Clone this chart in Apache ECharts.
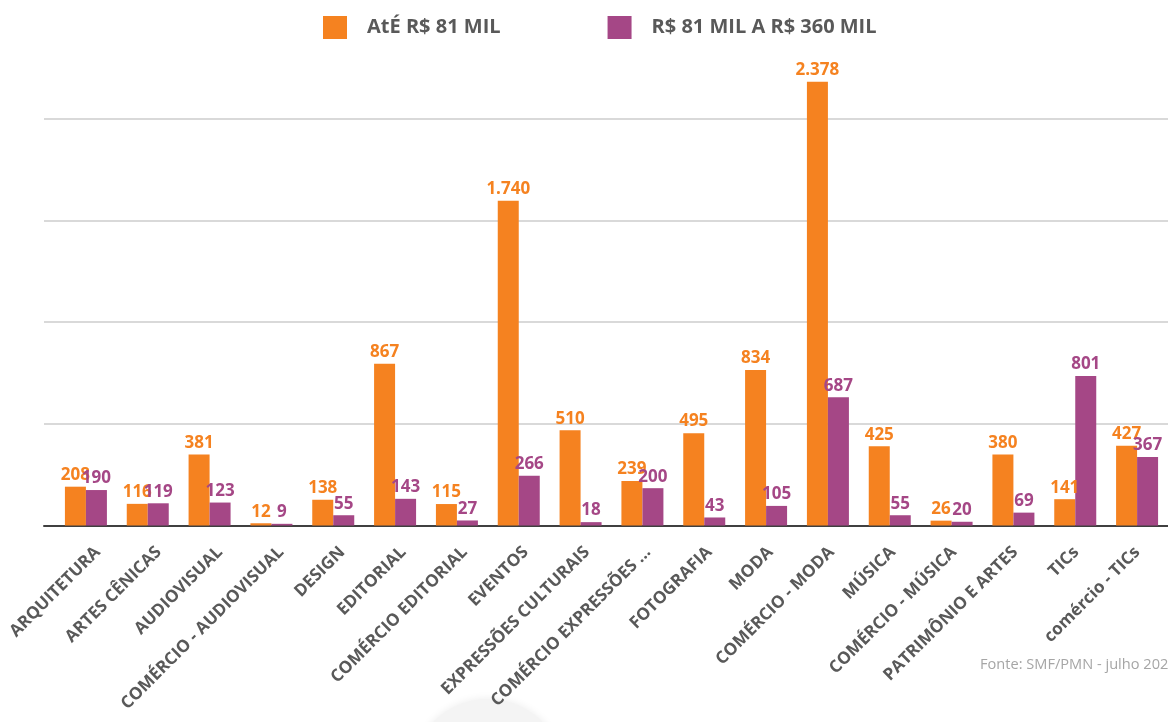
<!DOCTYPE html>
<html>
<head>
<meta charset="utf-8">
<script src="https://cdn.jsdelivr.net/npm/echarts@6/dist/echarts.min.js"></script>
<style>
html, body { margin: 0; padding: 0; background: #fff; }
#container { width: 1168px; height: 722px; }
</style>
</head>
<body>
<div id="container"></div>
<script>
// categorias e valores
var categorias = ['ARQUITETURA', 'ARTES CÊNICAS', 'AUDIOVISUAL', 'COMÉRCIO - AUDIOVISUAL', 'DESIGN',
    'EDITORIAL', 'COMÉRCIO EDITORIAL', 'EVENTOS', 'EXPRESSÕES CULTURAIS', 'COMÉRCIO EXPRESSÕES ...',
    'FOTOGRAFIA', 'MODA', 'COMÉRCIO - MODA', 'MÚSICA', 'COMÉRCIO - MÚSICA', 'PATRIMÔNIO E ARTES',
    'TICs', 'comércio - TICs'];
var ate81 = [208, 116, 381, 12, 138, 867, 115, 1740, 510, 239, 495, 834, 2378, 425, 26, 380, 141, 427];
var de81a360 = [190, 119, 123, 9, 55, 143, 27, 266, 18, 200, 43, 105, 687, 55, 20, 69, 801, 367];
var nomes = ['AtÉ R$ 81 MIL', 'R$ 81 MIL A R$ 360 MIL'];

var laranja = '#F58220';
var roxo = '#A54786';
var fonte = "'Open Sans', 'Noto Sans', sans-serif";

function fmt(p) {
    return String(p.value).replace(/\B(?=(\d{3})+(?!\d))/g, '.');
}

var dom = document.getElementById('container');
var myChart = echarts.init(dom, null, { renderer: 'canvas' });

var labelStyle = function (cor) {
    return {
        show: true,
        position: 'top',
        distance: 3,
        color: cor,
        fontFamily: fonte,
        fontWeight: 'bold',
        fontSize: 17,
        formatter: fmt
    };
};

var option = {
    backgroundColor: '#ffffff',
    animation: false,
    legend: {
        left: 318,
        top: 11,
        itemWidth: 24,
        itemHeight: 23,
        itemGap: 107,
        icon: 'rect',
        data: nomes,
        textStyle: {
            color: '#595959',
            fontFamily: fonte,
            fontWeight: 'bold',
            fontSize: 20,
            padding: [0, 0, 0, 15]
        }
    },
    grid: [
        { left: 55, right: 0, top: 59, bottom: 196.5 },
        { left: 44, right: 0, top: 118.7, bottom: 196.5 },
        // só para os rótulos do eixo, deslocados como no original
        { left: 67, right: -12, top: 59, bottom: 196.5 }
    ],
    xAxis: [
        {
            type: 'category',
            gridIndex: 0,
            data: categorias,
            axisLine: { show: false },
            axisTick: { show: false },
            axisLabel: { show: false }
        },
        {
            type: 'category',
            gridIndex: 1,
            data: [''],
            axisLine: { show: true, lineStyle: { color: '#404040', width: 2 } },
            axisTick: { show: false },
            axisLabel: { show: false }
        },
        {
            type: 'category',
            gridIndex: 2,
            data: categorias,
            axisLine: { show: false },
            axisTick: { show: false },
            axisLabel: {
                interval: 0,
                rotate: 45,
                margin: 24,
                color: '#595959',
                fontFamily: fonte,
                fontWeight: 'bold',
                fontSize: 17
            }
        }
    ],
    yAxis: [
        { type: 'value', gridIndex: 0, min: 0, max: 2500, show: false, splitLine: { show: false } },
        {
            type: 'value', gridIndex: 1, min: 0, max: 2180, interval: 545,
            axisLabel: { show: false },
            axisLine: { show: false },
            axisTick: { show: false },
            splitLine: { lineStyle: { color: '#D9D9D9', width: 2 } }
        },
        { type: 'value', gridIndex: 2, min: 0, max: 2500, show: false, splitLine: { show: false } }
    ],
    graphic: [
        {
            type: 'circle',
            z: -10,
            shape: { cx: 488, cy: 775, r: 76 },
            style: { fill: '#F4F4F4', shadowBlur: 8, shadowColor: 'rgba(0,0,0,0.08)' }
        },
        {
            type: 'text',
            left: 980,
            top: 657,
            style: {
                text: 'Fonte: SMF/PMN - julho 2020',
                fill: '#A6A6A6',
                font: '14.6px ' + fonte
            }
        }
    ],
    series: [
        {
            name: nomes[0],
            type: 'bar',
            xAxisIndex: 0,
            yAxisIndex: 0,
            barWidth: 21,
            barGap: '0%',
            itemStyle: { color: laranja },
            label: labelStyle(laranja),
            data: ate81,
            z: 3
        },
        {
            name: nomes[1],
            type: 'bar',
            xAxisIndex: 0,
            yAxisIndex: 0,
            barWidth: 21,
            barGap: '0%',
            itemStyle: { color: roxo },
            label: labelStyle(roxo),
            data: de81a360,
            z: 3
        }
    ]
};

if (option && typeof option === 'object') {
    myChart.setOption(option, true);
}
</script>
</body>
</html>
